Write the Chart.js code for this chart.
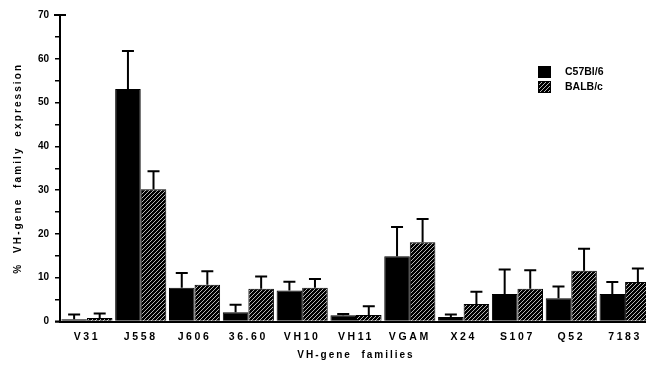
<!DOCTYPE html>
<html>
<head>
<meta charset="utf-8">
<script src="https://cdn.jsdelivr.net/npm/chart.js@4/dist/chart.umd.min.js"></script>
<style>
  html, body { margin: 0; padding: 0; background: #fff; overflow: hidden; }
  #wrap { width: 656px; height: 367px; }
</style>
</head>
<body>
<div id="wrap"><canvas id="vhChart" width="656" height="367"></canvas></div>
<script>
const families = ['V31', 'J558', 'J606', '36.60', 'VH10', 'VH11', 'VGAM', 'X24', 'S107', 'Q52', '7183'];
const c57Values = [0.5, 53.1, 7.7, 2.1, 7.1, 1.4, 14.9, 1.0, 6.3, 5.3, 6.3];
const c57Errors = [1.1, 8.7, 3.4, 1.7, 2.0, 0.3, 6.7, 0.6, 5.6, 2.7, 2.7];
const balbValues = [0.8, 30.2, 8.4, 7.5, 7.7, 1.5, 18.1, 4.0, 7.5, 11.6, 9.0];
const balbErrors = [1.0, 4.1, 3.1, 2.8, 2.0, 2.0, 5.3, 2.8, 4.2, 5.0, 3.1];
const strainNames = ['C57Bl/6', 'BALB/c'];

const FONT = '"Liberation Sans", Arial, sans-serif';

function makeHatch() {
    const c = document.createElement('canvas');
    c.width = c.height = 4;
    const g = c.getContext('2d');
    g.fillStyle = '#000';
    g.fillRect(0, 0, 4, 4);
    g.strokeStyle = '#e4e4e4';
    g.lineWidth = 0.8;
    g.beginPath();
    g.moveTo(0, 4); g.lineTo(4, 0);
    g.moveTo(-1, 1); g.lineTo(1, -1);
    g.moveTo(3, 5); g.lineTo(5, 3);
    g.stroke();
    return g.createPattern(c, 'repeat');
}

const hatch = makeHatch();
const errorSets = [c57Errors, balbErrors];

// wrap a scale's draw part so its text gets letter spacing
function spaceOut(scale, part, px) {
    const orig = scale[part];
    scale[part] = function(...args) {
        const ctx = this.ctx;
        const prev = ctx.letterSpacing;
        ctx.letterSpacing = px;
        orig.apply(this, args);
        ctx.letterSpacing = prev;
    };
}

const errorBars = {
    id: 'errorBars',
    afterDatasetsDraw(chart) {
        const ctx = chart.ctx;
        const y = chart.scales.y;
        ctx.save();
        ctx.strokeStyle = '#000';
        ctx.lineWidth = 2;
        chart.data.datasets.forEach((ds, i) => {
            const meta = chart.getDatasetMeta(i);
            meta.data.forEach((bar, j) => {
                const top = y.getPixelForValue(ds.data[j] + errorSets[i][j]);
                ctx.beginPath();
                ctx.moveTo(bar.x, bar.y);
                ctx.lineTo(bar.x, top);
                ctx.moveTo(bar.x - 6, top);
                ctx.lineTo(bar.x + 6, top);
                ctx.stroke();
            });
        });
        // cap at top of y axis and small stub left of origin
        const area = chart.chartArea;
        const t = y.getPixelForValue(70);
        ctx.beginPath();
        ctx.moveTo(area.left - 6, t);
        ctx.lineTo(area.left + 6, t);
        ctx.moveTo(area.left - 5, area.bottom);
        ctx.lineTo(area.left, area.bottom);
        ctx.stroke();

        // legend
        const fills = ['#000', hatch];
        ctx.font = 'bold 10.5px ' + FONT;
        ctx.textBaseline = 'middle';
        ctx.lineWidth = 1;
        strainNames.forEach((name, i) => {
            const top = 66 + i * 15;
            ctx.fillStyle = fills[i];
            ctx.fillRect(538, top, 13, 12);
            ctx.strokeRect(538.5, top + 0.5, 12, 11);
            ctx.fillStyle = '#000';
            ctx.fillText(name, 565, top + 6);
        });
        ctx.restore();
    }
};

const ctx = document.getElementById('vhChart').getContext('2d');

new Chart(ctx, {
    type: 'bar',
    data: {
        labels: families,
        datasets: [{
            label: strainNames[0],
            data: c57Values,
            backgroundColor: '#000',
            borderColor: '#000',
            borderWidth: 1,
            barPercentage: 1,
            categoryPercentage: 0.95
        }, {
            label: strainNames[1],
            data: balbValues,
            backgroundColor: hatch,
            borderColor: '#000',
            borderWidth: 1,
            barPercentage: 1,
            categoryPercentage: 0.95
        }]
    },
    options: {
        responsive: false,
        animation: false,
        layout: { padding: { left: 12, top: 15, right: 4, bottom: 0 } },
        plugins: {
            legend: { display: false },
            tooltip: { enabled: false }
        },
        scales: {
            x: {
                grid: { display: false, drawTicks: false },
                border: { color: '#000', width: 2 },
                ticks: { color: '#000', padding: 9, font: { family: FONT, size: 10.5, weight: 'bold' } },
                title: {
                    display: true,
                    text: 'VH-gene  families',
                    color: '#000',
                    padding: { top: 0, bottom: 6 },
                    font: { family: FONT, size: 10, weight: 'bold' }
                },
                afterFit(scale) {
                    scale.height = 45.5;
                    if (!scale._spaced) {
                        spaceOut(scale, 'drawLabels', '2.6px');
                        spaceOut(scale, 'drawTitle', '2px');
                        scale._spaced = true;
                    }
                }
            },
            y: {
                min: 0,
                max: 70,
                grid: { drawOnChartArea: false, tickLength: 5, color: '#000', lineWidth: 1.5 },
                border: { color: '#000', width: 2 },
                ticks: {
                    stepSize: 5,
                    color: '#000',
                    padding: 6,
                    font: { family: FONT, size: 10, weight: 'bold' },
                    callback: v => v % 10 === 0 ? v : ''
                },
                title: {
                    display: true,
                    text: '%  VH-gene  family  expression',
                    color: '#000',
                    padding: 0,
                    font: { family: FONT, size: 10, weight: 'bold' }
                },
                afterFit(scale) {
                    scale.width = 48;
                    if (!scale._spaced) {
                        spaceOut(scale, 'drawTitle', '2.1px');
                        scale._spaced = true;
                    }
                }
            }
        }
    },
    plugins: [errorBars]
});
</script>
</body>
</html>
